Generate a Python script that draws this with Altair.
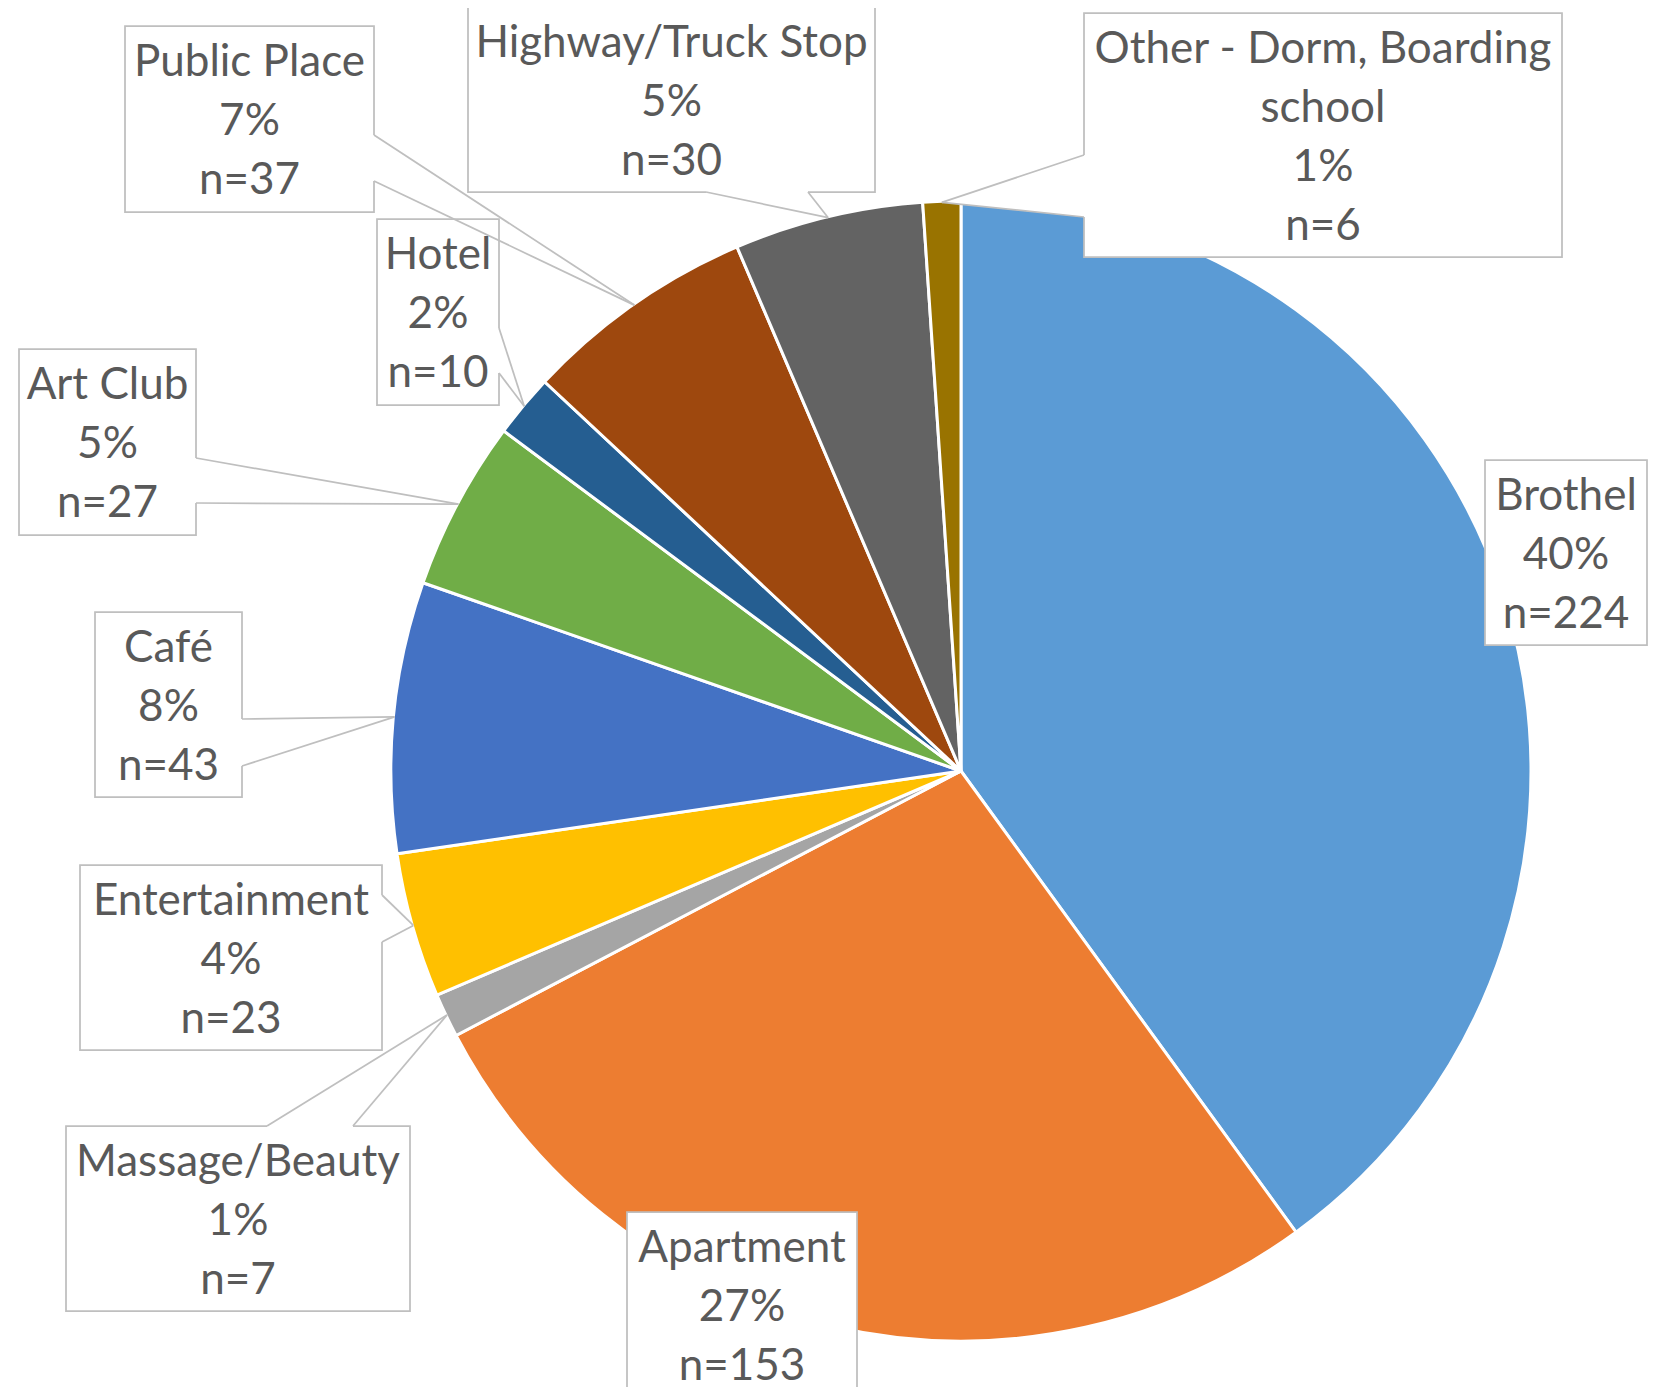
import math
import altair as alt
import pandas as pd

# ---------------- data ----------------
categories = ["Brothel", "Apartment", "Massage/Beauty", "Entertainment", "Café",
              "Art Club", "Hotel", "Public Place", "Highway/Truck Stop",
              "Other - Dorm, Boarding school"]
counts = [224, 153, 7, 23, 43, 27, 10, 37, 30, 6]
colors = ["#5B9BD5", "#ED7D31", "#A5A5A5", "#FFC000", "#4472C4",
          "#70AD47", "#255E91", "#9E480E", "#636363", "#997300"]
name_lines = [["Brothel"], ["Apartment"], ["Massage/Beauty"], ["Entertainment"],
              ["Café"], ["Art Club"], ["Hotel"], ["Public Place"],
              ["Highway/Truck Stop"], ["Other - Dorm, Boarding", "school"]]

# ---------------- layout (page pixels) ----------------
PAGE = 8
W, H = 1640, 1379
CX, CY, R = 961, 771, 569
box_left = [1485, 627, 66, 80, 95, 19, 377, 125, 468, 1084]
box_right = [1647, 857, 410, 382, 242, 196, 499, 374, 875, 1562]
box_top = [460, 1212, 1126, 865, 612, 349, 219, 26, 7, 13]
box_bottom = [645, 1398, 1311, 1050, 797, 535, 405, 212, 192, 257]
wedge_side = [None, None, "top", "right", "right", "right", "right", "right", "bottom", "left"]
wedge_from = [None, None, 267, 895, 719, 458, 328, 135, 706, 155]
wedge_to = [None, None, 353, 942, 766, 503, 373, 181, 808, 217]
LINE_H = 59
TEXT_DY = 3

total = sum(counts)

pie_df = pd.DataFrame({"category": categories, "count": counts,
                       "idx": list(range(len(categories)))})

boxes, texts, v_wedges, h_wedges, gaps, leaders = [], [], [], [], [], []
cum = 0
for i, (cat, n) in enumerate(zip(categories, counts)):
    mid = (cum + n / 2) / total * 2 * math.pi
    cum += n
    tx = CX + R * math.sin(mid)
    ty = CY - R * math.cos(mid)
    l, r, t, b = box_left[i], box_right[i], box_top[i], box_bottom[i]
    boxes.append({"name": cat, "x": l, "x2": r, "y": t, "y2": b})
    lines = name_lines[i] + [f"{round(n / total * 100)}%", f"n={n}"]
    cy = (t + b) / 2 + TEXT_DY
    k = len(lines)
    for j, s in enumerate(lines):
        texts.append({"x": (l + r) / 2, "y": cy + (j - (k - 1) / 2) * LINE_H, "text": s})
    side = wedge_side[i]
    if side is None:
        continue
    a, c = wedge_from[i], wedge_to[i]
    if side in ("left", "right"):
        ex = r if side == "right" else l
        v_wedges += [{"name": cat, "x": ex, "y": a, "y2": c},
                     {"name": cat, "x": tx, "y": ty, "y2": ty}]
        p1, p2 = (ex, a), (ex, c)
    else:
        ey = t if side == "top" else b
        h_wedges += [{"name": cat, "y": ey, "x": a, "x2": c},
                     {"name": cat, "y": ty, "x": tx, "x2": tx}]
        p1, p2 = (a, ey), (c, ey)
    gaps.append({"x": p1[0], "y": p1[1], "x2": p2[0], "y2": p2[1]})
    leaders.append({"x": p1[0], "y": p1[1], "x2": tx, "y2": ty})
    leaders.append({"x": p2[0], "y": p2[1], "x2": tx, "y2": ty})

xs = alt.Scale(domain=[PAGE, PAGE + W], nice=False, zero=False)
ys = alt.Scale(domain=[PAGE + H, PAGE], nice=False, zero=False)


def X(f="x"):
    return alt.X(f"{f}:Q", scale=xs, axis=None)


def Y(f="y"):
    return alt.Y(f"{f}:Q", scale=ys, axis=None)


pie = alt.Chart(pie_df).mark_arc(radius=R + 1, stroke="white", strokeWidth=3).encode(
    theta=alt.Theta("count:Q", stack=True),
    order=alt.Order("idx:Q", sort="ascending"),
    color=alt.Color("category:N", scale=alt.Scale(domain=categories, range=colors),
                    sort=None, legend=None),
    x=alt.value(CX - PAGE),
    y=alt.value(CY - PAGE),
)

vw = alt.Chart(pd.DataFrame(v_wedges)).mark_area(orient="vertical", color="white", opacity=1).encode(
    x=X(), y=Y(), y2="y2:Q", detail="name:N")
hw = alt.Chart(pd.DataFrame(h_wedges)).mark_area(orient="horizontal", color="white", opacity=1).encode(
    y=Y(), x=X(), x2="x2:Q", detail="name:N")

box = alt.Chart(pd.DataFrame(boxes)).mark_rect(fill="white", stroke="#BFBFBF", strokeWidth=1.75).encode(
    x=X(), x2="x2:Q", y=Y(), y2="y2:Q")

gap = alt.Chart(pd.DataFrame(gaps)).mark_rule(color="white", strokeWidth=3.5).encode(
    x=X(), x2="x2:Q", y=Y(), y2="y2:Q")

lead = alt.Chart(pd.DataFrame(leaders)).mark_rule(color="#BFBFBF", strokeWidth=1.75).encode(
    x=X(), x2="x2:Q", y=Y(), y2="y2:Q")

txt = alt.Chart(pd.DataFrame(texts)).mark_text(
    font="Lato", fontSize=44, color="#595959", align="center", baseline="middle").encode(
    x=X(), y=Y(), text="text:N")

chart = alt.layer(pie, vw, hw, box, gap, lead, txt).properties(
    width=W, height=H, padding=0,
    autosize=alt.AutoSizeParams(type="none"),
    background="white",
).configure_view(stroke=None)

chart.save("out.html", embed_options={"renderer": "svg", "actions": False})
